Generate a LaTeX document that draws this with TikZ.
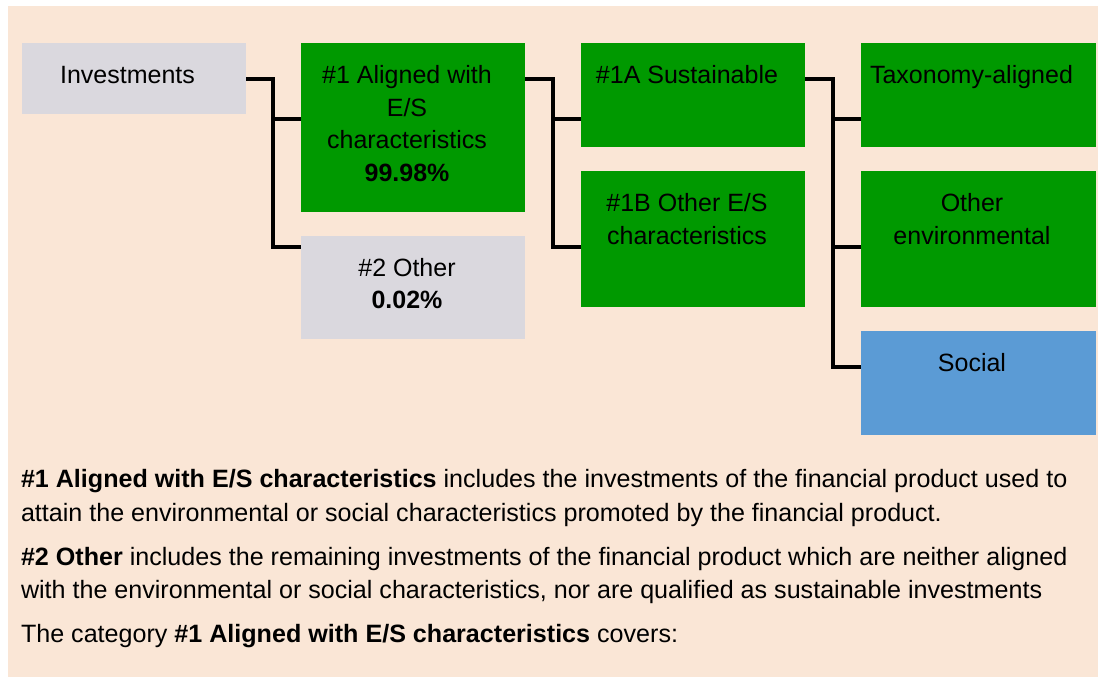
\documentclass[tikz,border=0pt]{standalone}
\usepackage{fontspec}
\setmainfont{Liberation Sans}
\definecolor{bgbeige}{HTML}{FAE6D6}
\definecolor{boxgreen}{HTML}{009900}
\definecolor{boxgray}{HTML}{DAD8DE}
\definecolor{boxblue}{HTML}{5B9BD5}
\begin{document}
\begin{tikzpicture}[x=1pt,y=-1pt,
  box/.style={draw=none,inner sep=0pt,outer sep=0pt},
  txt/.style={anchor=base,inner sep=0pt,outer sep=0pt,font=\fontsize{25}{32.5}\selectfont},
  body/.style={anchor=base west,inner sep=0pt,outer sep=0pt,font=\fontsize{25.1}{32.5}\selectfont},
  conn/.style={draw=black,line width=4pt,line join=miter}]
\useasboundingbox (0,0) rectangle (1102,677);
\fill[white] (0,0) rectangle (1102,677);
\fill[bgbeige] (8,6) rectangle (1098,677);

% boxes
\node[box,fill=boxgray,minimum width=224pt,minimum height=71pt] (inv) at (134,78.5) {};
\node[box,fill=boxgreen,minimum width=224pt,minimum height=169pt] (b1) at (413,127.5) {};
\node[box,fill=boxgray,minimum width=224pt,minimum height=103pt] (b2) at (413,287.5) {};
\node[box,fill=boxgreen,minimum width=224pt,minimum height=103.5pt] (b1a) at (693,94.75) {};
\node[box,fill=boxgreen,minimum width=224pt,minimum height=135.5pt] (b1b) at (693,238.75) {};
\node[box,fill=boxgreen,minimum width=234.5pt,minimum height=103.5pt] (tax) at (978.25,94.75) {};
\node[box,fill=boxgreen,minimum width=234.5pt,minimum height=135.5pt] (oth) at (978.25,238.75) {};
\node[box,fill=boxblue,minimum width=234.5pt,minimum height=104pt] (soc) at (978.25,383) {};

% box texts
\node[txt] (tinv) at (127.5,83.5) {Investments};
\node[txt] (tb1) at (407,83.5) {\begin{tabular}[t]{@{}c@{}}\#1 Aligned with\\E/S\\characteristics\\\textbf{99.98\%}\end{tabular}};
\node[txt] (tb2) at (407,276) {\begin{tabular}[t]{@{}c@{}}\#2 Other\\\textbf{0.02\%}\end{tabular}};
\node[txt] (tb1a) at (687,83.5) {\#1A Sustainable};
\node[txt] (tb1b) at (687,211.5) {\begin{tabular}[t]{@{}c@{}}\#1B Other E/S\\characteristics\end{tabular}};
\node[txt] (ttax) at (971.5,83.5) {Taxonomy-aligned};
\node[txt] (toth) at (972,211.5) {\begin{tabular}[t]{@{}c@{}}Other\\environmental\end{tabular}};
\node[txt] (tsoc) at (972,371.5) {Social};

% connectors
\draw[conn] ([yshift=-36pt]inv.north east) -| ([xshift=-28pt,yshift=-11pt]b2.north west) -- ([yshift=-11pt]b2.north west);
\draw[conn] ([xshift=-28pt,yshift=-75.5pt]b1.north west) -- ([yshift=-75.5pt]b1.north west);
\draw[conn] ([yshift=-36pt]b1.north east) -| ([xshift=-28pt,yshift=-76pt]b1b.north west) -- ([yshift=-76pt]b1b.north west);
\draw[conn] ([xshift=-28pt,yshift=-75.5pt]b1a.north west) -- ([yshift=-75.5pt]b1a.north west);
\draw[conn] ([yshift=-36pt]b1a.north east) -| ([xshift=-28pt,yshift=-36pt]soc.north west) -- ([yshift=-36pt]soc.north west);
\draw[conn] ([xshift=-28pt,yshift=-75.5pt]tax.north west) -- ([yshift=-75.5pt]tax.north west);
\draw[conn] ([xshift=-28pt,yshift=-76pt]oth.north west) -- ([yshift=-76pt]oth.north west);

% explanatory text
\node[body] (l1) at (21,487) {\textbf{\#1 Aligned with E/S characteristics} includes the investments of the financial product used to};
\node[body] (l2) at (21,521) {attain the environmental or social characteristics promoted by the financial product.};
\node[body] (l3) at (21,565) {\textbf{\#2 Other} includes the remaining investments of the financial product which are neither aligned};
\node[body] (l4) at (21,598) {with the environmental or social characteristics, nor are qualified as sustainable investments};
\node[body] (l5) at (21,642) {The category \textbf{\#1 Aligned with E/S characteristics} covers:};
\end{tikzpicture}
\end{document}
